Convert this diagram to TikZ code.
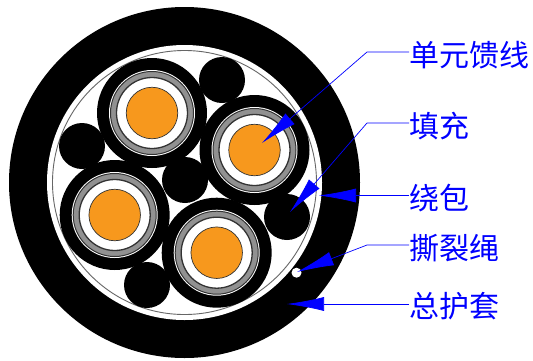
\documentclass[tikz,border=0pt]{standalone}
\usepackage{fontspec}
\newfontfamily\cjk{Noto Sans CJK SC}
\usetikzlibrary{arrows.meta}
\definecolor{coreorange}{RGB}{247,152,29}
\definecolor{screengray}{RGB}{145,145,145}
\definecolor{labelblue}{RGB}{0,0,255}
\tikzset{
  disc/.style={shape=circle,inner sep=0pt,outer sep=0pt},
  filler/.style={disc,fill=black,minimum size=46pt},
  leader/.style={draw=labelblue,line width=0.7pt,-{Latex[length=37pt,width=14pt]}},
  caption/.style={anchor=west,inner sep=0pt,text=labelblue,font=\cjk\fontsize{30}{30}\selectfont},
}
\begin{document}
\begin{tikzpicture}[x=1pt,y=-1pt]
        \useasboundingbox (0,0) rectangle (533,360);
        % sheath and wrapping
        \node[disc,fill=black,minimum size=351pt] (sheath) at (184.5,182.5) {};
        \node[disc,fill=white,minimum size=275pt] (bedding) at (184.5,182.5) {};
        \node[disc,draw=black!60,line width=0.9pt,minimum size=264pt] (wrap) at (184.5,182.5) {};
        % fillers
        \node[filler] (F1) at (222,80) {};
        \node[filler] (F2) at (82,146) {};
        \node[filler] (F3) at (185,180) {};
        \node[filler] (F4) at (147,285) {};
        \node[filler] (F5) at (287,217) {};
        % feeder units
        \foreach \name/\x/\y in {U1/152/113,U2/254.5/150,U3/114.7/215,U4/216.7/252.7}{
            \node[disc,fill=black,minimum size=110pt] (\name jacket) at (\x,\y) {};
            \node[disc,fill=white,minimum size=86pt] (\name shield) at (\x,\y) {};
            \node[disc,fill=screengray,draw=black!80,line width=1pt,minimum size=83pt] (\name tape) at (\x,\y) {};
            \node[disc,fill=white,draw=black!80,line width=1.3pt,minimum size=71pt] (\name ins) at (\x,\y) {};
            \node[disc,fill=coreorange,draw=black!80,line width=0.7pt,minimum size=51.5pt] (\name core) at (\x,\y) {};
        }
        % ripcord
        \node[disc,fill=white,minimum size=10pt] (cord) at (296.5,272.7) {};
        % labels
        \node[caption] (unit) at (409,55) {单元馈线};
        \node[caption] (fill) at (409,126) {填充};
        \node[caption] (tape) at (409,198) {绕包};
        \node[caption] (rip) at (409,248) {撕裂绳};
        \node[caption] (jack) at (409,306) {总护套};
        % leaders
        \coordinate (unitbend) at (367,52);
        \coordinate (filbend) at (367,123);
        \coordinate (ripbend) at (367,245);
        \coordinate (unittip) at (262,143);
        \coordinate (filtip) at (290,212);
        \coordinate (tapetip) at (319,195.5);
        \coordinate (riptip) at (297,272);
        \coordinate (jacktip) at (287,304);
        \draw[leader] (unit.west |- unitbend) -- (unitbend) -- (unittip);
        \draw[leader] (fill.west |- filbend) -- (filbend) -- (filtip);
        \draw[leader] (tape.west |- tapetip) -- (tapetip);
        \draw[leader] (rip.west |- ripbend) -- (ripbend) -- (riptip);
        \draw[leader] (jack.west |- jacktip) -- (jacktip);
    \end{tikzpicture}
\end{document}
